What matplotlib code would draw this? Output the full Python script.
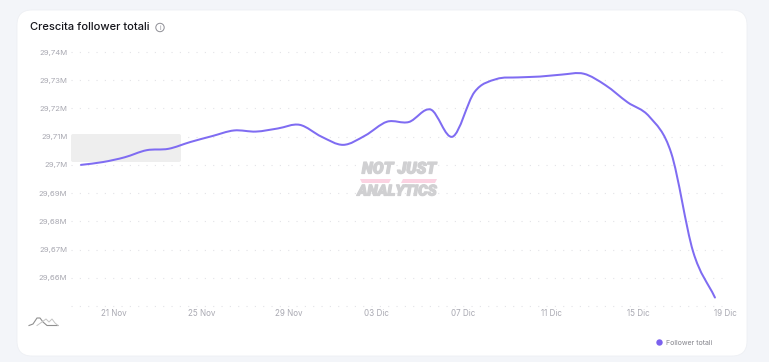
import matplotlib
matplotlib.use("Agg")
import matplotlib.pyplot as plt
from matplotlib.patches import FancyBboxPatch, PathPatch, Circle, Polygon
from matplotlib.path import Path
import matplotlib.patheffects as pe
import numpy as np

title = "Crescita follower totali"
series_name = "Follower totali"
followers = [29.7000, 29.7010, 29.7027, 29.7052, 29.7057, 29.7081, 29.7102, 29.7122,
             29.7118, 29.7129, 29.7142, 29.7100, 29.7071, 29.7104, 29.7153, 29.7152,
             29.7196, 29.7100, 29.7258, 29.7304, 29.7310, 29.7313, 29.7320, 29.7323,
             29.7282, 29.7222, 29.7171, 29.7042, 29.6693, 29.6530]
y_ticks = [29.65, 29.66, 29.67, 29.68, 29.69, 29.70, 29.71, 29.72, 29.73, 29.74]
y_labels = ["", "29,66M", "29,67M", "29,68M", "29,69M", "29,7M", "29,71M", "29,72M", "29,73M", "29,74M"]
x_tick_index = [1, 5, 9, 13, 17, 21, 25, 29]
x_labels = ["21 Nov", "25 Nov", "29 Nov", "03 Dic", "07 Dic", "11 Dic", "15 Dic", "19 Dic"]

W, H = 769, 362
DAY = 21.86
plt.rcParams["font.family"] = ["Inter", "DejaVu Sans"]
fig = plt.figure(figsize=(W / 100, H / 100), dpi=100, facecolor="#f3f5f9")

deco = fig.add_axes([0, 0, 1, 1], zorder=0)
deco.set_xlim(0, W); deco.set_ylim(H, 0); deco.axis("off")
deco.add_patch(FancyBboxPatch((17 + 15, 10 + 15), 730 - 30, 346 - 30,
                              boxstyle="round,pad=15,rounding_size=15",
                              fc="white", ec="#eef0f4", lw=0.6))

x_left = -10 / DAY
x_right = 30.0
grid_end = 641 / DAY
ax = fig.add_axes([71 / W, 1 - 306 / H, (x_right - x_left) * DAY / W, 254 / H], zorder=1)
ax.patch.set_alpha(0)
for s in ax.spines.values():
    s.set_visible(False)
ax.set_yticks(y_ticks, y_labels, fontsize=5.6, color="#a9a9b2")
ax.set_xticks([i + 0.5 for i in x_tick_index], x_labels, fontsize=5.8, color="#a9a9b2")
ax.set_xlim(x_left, x_right)
ax.set_ylim(29.65, 29.74)
ax.tick_params(length=0, axis="y", pad=2.6)
ax.tick_params(length=0, axis="x", pad=2.0)
ax.hlines(y_ticks, x_left, grid_end, color="#e3e3e7", lw=0.8, linestyle=(0, (1, 6.5)), clip_on=False)

# gray placeholder block
deco2 = fig.add_axes([0, 0, 1, 1], zorder=2)
deco2.set_xlim(0, W); deco2.set_ylim(H, 0); deco2.axis("off"); deco2.patch.set_alpha(0)
deco2.add_patch(FancyBboxPatch((73, 136), 106, 24, boxstyle="round,pad=2,rounding_size=2",
                               fc="#eeeeee", ec="none"))
# watermark
deco2.add_patch(Polygon([(360, 179), (391, 179), (389, 183), (362, 183)], fc="#fbd3e2", ec="none"))
deco2.add_patch(Polygon([(403, 179), (437, 179), (435, 183), (401, 183)], fc="#fbd3e2", ec="none"))
stroke = [pe.withStroke(linewidth=0.9, foreground="#d0d0d2")]
deco2.text(399, 169, "NOT JUST", ha="center", va="center", fontsize=11.6, color="#d0d0d2",
           fontweight="black", style="italic", family=["Roboto", "DejaVu Sans"], path_effects=stroke)
deco2.text(397, 191.5, "ANALYTICS", ha="center", va="center", fontsize=10.8, color="#d0d0d2",
           fontweight="black", style="italic", family=["Roboto", "DejaVu Sans"], path_effects=stroke)

# title, info icon
deco2.text(30, 27, title, fontsize=8.0, fontweight="medium", color="#16161c", va="center", ha="left")
deco2.add_patch(Circle((160, 27.5), 4.2, fc="none", ec="#8d8d94", lw=0.7))
deco2.text(160, 27.6, "i", fontsize=4.6, color="#8d8d94", ha="center", va="center")

# corner icon
deco2.plot([29, 33, 37, 40, 43, 47, 50, 53, 58], [325.5, 324, 318, 318, 322, 325.5, 325.5, 325.5, 325.5],
           color="#8f8f8f", lw=0.8)
deco2.plot([37, 42, 46, 49, 52, 55, 58], [325.5, 322, 319, 322, 319, 323, 325.5], color="#c4c4c4", lw=0.7)

# legend
deco2.add_patch(Circle((659.5, 342.5), 3.2, fc="#7b61ee", ec="none"))
deco2.text(665.5, 343, series_name, fontsize=5.0, color="#85858c", ha="left", va="center")

# smooth line through the daily values (Catmull-Rom as cubic Bezier)
xs = np.arange(len(followers), dtype=float)
ys = np.array(followers)
tx = np.gradient(xs); ty = np.gradient(ys)
verts = [(xs[0], ys[0])]
codes = [Path.MOVETO]
for i in range(len(xs) - 1):
    verts += [(xs[i] + tx[i] / 3, ys[i] + ty[i] / 3),
              (xs[i + 1] - tx[i + 1] / 3, ys[i + 1] - ty[i + 1] / 3),
              (xs[i + 1], ys[i + 1])]
    codes += [Path.CURVE4] * 3
line_ax = fig.add_axes(ax.get_position(), zorder=3)
line_ax.set_xlim(ax.get_xlim()); line_ax.set_ylim(ax.get_ylim()); line_ax.axis("off")
line_ax.patch.set_alpha(0)
line_ax.add_patch(PathPatch(Path(verts, codes), fc="none", ec="#7f6cf2", lw=1.45, capstyle="round"))

fig.savefig("out.png", dpi=100, facecolor=fig.get_facecolor())
